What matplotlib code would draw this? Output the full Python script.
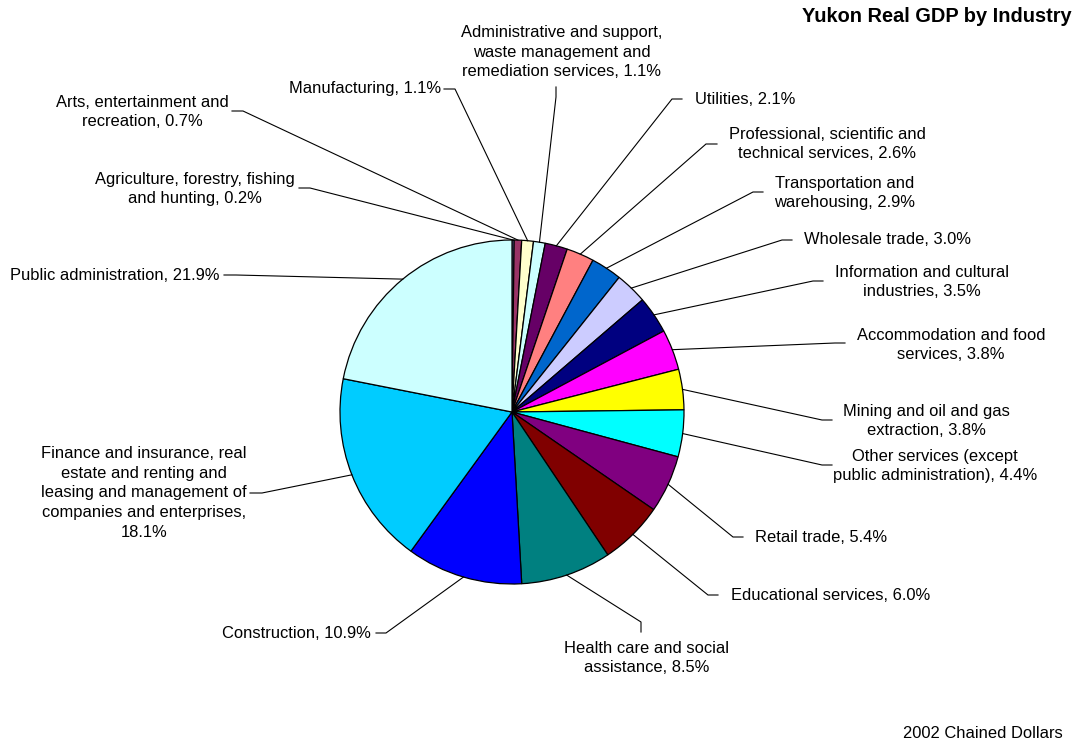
import numpy as np
import matplotlib
matplotlib.use("Agg")
from matplotlib import pyplot as plt

plt.rcParams["font.family"] = ["Liberation Sans", "DejaVu Sans"]

# Yukon real GDP shares by industry (2002 chained dollars), clockwise from 12 o'clock
industries = [
    "Agriculture, forestry, fishing\nand hunting",
    "Arts, entertainment and\nrecreation",
    "Manufacturing",
    "Administrative and support,\nwaste management and\nremediation services",
    "Utilities",
    "Professional, scientific and\ntechnical services",
    "Transportation and\nwarehousing",
    "Wholesale trade",
    "Information and cultural\nindustries",
    "Accommodation and food\nservices",
    "Mining and oil and gas\nextraction",
    "Other services (except\npublic administration)",
    "Retail trade",
    "Educational services",
    "Health care and social\nassistance",
    "Construction",
    "Finance and insurance, real\nestate and renting and\nleasing and management of\ncompanies and enterprises,\n",
    "Public administration",
]
shares = [0.2, 0.7, 1.1, 1.1, 2.1, 2.6, 2.9, 3.0, 3.5, 3.8, 3.8, 4.4, 5.4, 6.0, 8.5, 10.9, 18.1, 21.9]
colors = [
    "#9999FF", "#993366", "#FFFFCC", "#CCFFFF", "#660066", "#FF8080",
    "#0066CC", "#CCCCFF", "#000080", "#FF00FF", "#FFFF00", "#00FFFF",
    "#800080", "#800000", "#008080", "#0000FF", "#00CCFF", "#CCFFFF",
]

# label placement in pixel space: (x, y, ha, tick start, tick end)
label_layout = [
    (195, 189, "center", (299, 188), (310, 188)),
    (142, 112, "center", (232, 111), (243, 111)),
    (441, 89, "right", (444, 89), (455, 89)),
    (562, 52, "center", (556, 87), (556, 97)),
    (695, 100, "left", (682, 99), (672, 99)),
    (827, 144, "center", (717, 144), (706, 144)),
    (845, 193, "center", (763, 192), (753, 192)),
    (804, 240, "left", (792, 240), (782, 240)),
    (922, 282, "center", (823, 281), (813, 281)),
    (951, 345, "center", (845, 343), (835, 343)),
    (926, 421, "center", (832, 420), (822, 420)),
    (935, 466, "center", (832, 465), (822, 465)),
    (755, 537, "left", (743, 537), (733, 537)),
    (731, 595, "left", (718, 595), (708, 595)),
    (647, 658, "center", (641, 632), (641, 622)),
    (371, 633, "right", (376, 633), (386, 633)),
    (144, 493, "center", (250, 493), (262, 493)),
    (220, 275, "right", (224, 275), (236, 275)),
]

W, H = 1078, 742
cx, cy, radius = 512, 412, 172


def py(y):
    return H - y


fig = plt.figure(figsize=(W / 100, H / 100), dpi=100)
ax = fig.add_axes([0, 0, 1, 1])

wedges, _ = ax.pie(
    shares,
    colors=colors,
    startangle=90,
    counterclock=False,
    center=(cx, py(cy)),
    radius=radius,
    wedgeprops={"edgecolor": "black", "linewidth": 0.9},
)
ax.set_xlim(0, W)
ax.set_ylim(0, H)
ax.set_aspect("equal")
ax.axis("off")

for wedge, name, value, (tx, ty, ha, t0, t1) in zip(
    wedges, industries, shares, label_layout
):
    mid = np.deg2rad((wedge.theta1 + wedge.theta2) / 2)
    ex = cx + radius * np.cos(mid)
    ey = py(cy) + radius * np.sin(mid)
    if name.endswith("\n"):
        text = f"{name}{value:.1f}%"
    else:
        text = f"{name}, {value:.1f}%"
    ax.text(tx, py(ty), text, ha=ha, va="center", multialignment="center",
            fontsize=11.9, linespacing=1.38, color="black")
    ax.plot([t0[0], t1[0], ex], [py(t0[1]), py(t1[1]), ey],
            color="black", linewidth=0.8, solid_joinstyle="miter")

ax.text(1072, py(17), "Yukon Real GDP by Industry", ha="right", va="center",
        fontsize=14.4, fontweight="bold")
ax.text(1063, py(733), "2002 Chained Dollars", ha="right", va="center",
        fontsize=11.9)

fig.savefig("out.png", dpi=100, facecolor="white")
